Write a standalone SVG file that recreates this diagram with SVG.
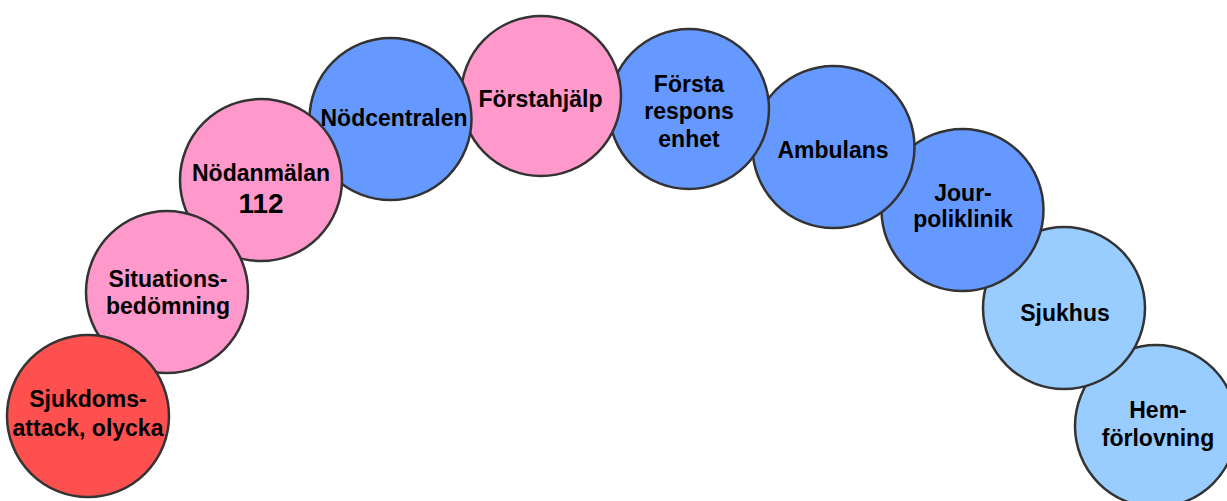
<svg xmlns="http://www.w3.org/2000/svg" width="1227" height="501" viewBox="0 0 1227 501">
<style>
circle{stroke:#333333;stroke-width:2.5}
.red{fill:#FF5050}
.pink{fill:#FF99CC}
.blue{fill:#6699FF}
.lblue{fill:#99CCFF}
text{font-family:"Liberation Sans",Arial,sans-serif;font-weight:bold;font-size:23px;fill:#000;text-anchor:middle}
.big{font-size:28px}
</style>
<rect width="1227" height="501" fill="#FFFFFF"/>
<g id="connectors"></g>
<g id="n10"><circle class="lblue" cx="1156" cy="426" r="81"/><text x="1158" y="418">Hem-</text><text x="1158" y="446">förlovning</text></g>
<g id="n9"><circle class="lblue" cx="1064" cy="308" r="81"/><text x="1065" y="321">Sjukhus</text></g>
<g id="n8"><circle class="blue" cx="962.5" cy="210" r="81"/><text x="963" y="201">Jour-</text><text x="963" y="227">poliklinik</text></g>
<g id="n7"><circle class="blue" cx="833.5" cy="147" r="81"/><text x="833" y="158">Ambulans</text></g>
<g id="n6"><circle class="blue" cx="689" cy="109" r="80"/><text x="689" y="92">Första</text><text x="689" y="119">respons</text><text x="689" y="147">enhet</text></g>
<g id="n5"><circle class="pink" cx="541" cy="96" r="80"/><text x="540.5" y="107">Förstahjälp</text></g>
<g id="n4"><circle class="blue" cx="390.5" cy="119" r="81"/><text x="394" y="126">Nödcentralen</text></g>
<g id="n3"><circle class="pink" cx="261" cy="180" r="81"/><text x="261" y="181">Nödanmälan</text><text class="big" x="261" y="213">112</text></g>
<g id="n2"><circle class="pink" cx="167" cy="292" r="81"/><text x="168" y="287">Situations-</text><text x="168" y="314">bedömning</text></g>
<g id="n1"><circle class="red" cx="88" cy="416" r="81"/><text x="88" y="407">Sjukdoms-</text><text x="88" y="436">attack, olycka</text></g>
</svg>
